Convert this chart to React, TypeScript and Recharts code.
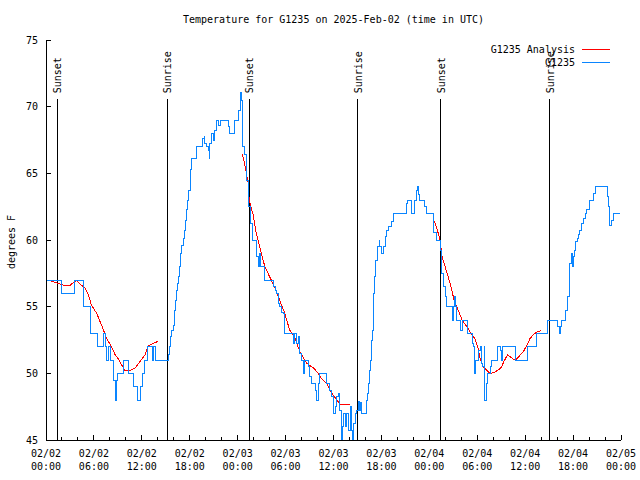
import { LineChart, Line, XAxis, YAxis, ReferenceLine, Legend } from 'recharts';

const FONT = '"DejaVu Sans Mono", monospace';
const BLUE = '#0a85ff';
const RED = '#ff0000';

// hours since 2025-02-02 00:00 UTC, temperature in deg F
const OBS_POINTS = [
  [0, 57], [1.95, 56], [3.6, 57], [4.75, 55], [5.6, 53], [6.5, 52], [7.2, 53], [7.4, 52], [7.6, 51],
  [7.85, 52], [8.05, 51], [8.5, 49.5], [8.7, 48], [8.85, 49.5], [8.95, 50], [9.7, 51], [10.3, 50],
  [10.95, 49], [11.45, 48], [11.8, 49], [12.05, 50], [12.3, 51], [12.75, 52], [13.3, 51], [13.45, 52],
  [13.75, 51], [15.3, 51.4], [15.45, 52], [15.6, 52.75], [15.75, 53.25], [15.95, 53.6], [16.05, 54.25],
  [16.15, 54.75], [16.25, 55.5], [16.35, 56.25], [16.45, 56.75], [16.55, 57.25], [16.7, 58], [16.8, 58.5],
  [16.9, 59], [17.0, 59.6], [17.2, 60.1], [17.3, 60.75], [17.45, 61.5], [17.6, 62.3], [17.75, 63],
  [17.9, 63.75], [18.05, 64.5], [18.15, 65.3], [18.25, 66.1], [18.9, 67], [19.6, 67.6], [19.8, 67.75],
  [19.9, 67.25], [20.1, 67], [20.3, 66.75], [20.45, 66.1], [20.5, 67.25], [20.75, 68], [20.95, 67.5],
  [21.15, 68.25], [21.4, 69], [21.6, 68.6], [21.8, 69], [22.8, 68.5], [22.95, 68], [23.65, 69],
  [24.15, 69.75], [24.3, 70.25], [24.4, 71.1], [24.5, 70.5], [24.6, 70], [24.65, 67], [24.9, 66.4],
  [25.05, 65.5], [25.1, 64.5], [25.3, 62.9], [25.4, 62.5], [25.55, 61.75], [25.65, 61.25], [25.9, 60],
  [26.4, 58.75], [26.6, 58], [26.75, 59], [26.85, 58], [27.4, 57], [28.5, 56.5], [28.7, 56.25],
  [28.9, 56], [29.1, 55.25], [29.3, 55], [29.5, 54.6], [29.7, 54.5], [29.9, 53], [30.95, 52.25],
  [31.1, 53], [31.4, 52.25], [31.6, 52.75], [31.8, 51.5], [32.0, 51], [32.2, 50], [32.4, 51],
  [32.85, 50.5], [33.05, 49.75], [33.25, 49.25], [33.7, 48.75], [33.9, 48], [34.1, 49.25], [34.3, 50],
  [34.95, 50], [35.15, 49.25], [35.55, 48.75], [35.8, 48.25], [36.0, 47.6], [36.06, 47], [36.2, 47.5],
  [36.4, 48.25], [36.6, 48.5], [36.8, 47.25], [37.0, 46.25], [37.05, 45], [37.15, 46], [37.3, 47],
  [37.45, 46], [37.65, 47], [37.85, 45.75], [38.07, 47.5], [38.28, 45.75], [38.4, 45], [38.5, 46.25],
  [38.7, 47], [38.9, 47.25], [39.1, 47.9], [39.25, 47.25], [39.4, 47.8], [39.5, 47], [40.15, 48],
  [40.25, 48.5], [40.35, 49.25], [40.5, 50.25], [40.6, 51], [40.7, 51.75], [40.8, 52.5], [40.9, 53.25],
  [41.0, 54.75], [41.05, 56], [41.1, 57.25], [41.3, 58.5], [41.5, 59.5], [41.7, 60], [41.8, 59.5],
  [42.0, 59], [42.25, 59.5], [42.45, 60.25], [42.65, 60.75], [42.85, 61], [43.3, 61.4], [43.5, 62],
  [45.1, 62.75], [45.25, 63], [45.8, 62], [46.2, 63], [46.4, 63.75], [46.55, 64], [46.7, 63.4],
  [46.8, 63], [47.45, 62.5], [47.6, 62], [48.5, 60.6], [48.85, 60], [49.4, 59.25], [49.5, 57.5],
  [49.75, 56.5], [50.0, 55.75], [50.2, 55], [50.85, 54], [51.0, 55], [51.2, 55.75], [51.3, 55],
  [51.4, 54], [51.85, 53.25], [52.1, 54], [52.75, 53], [53.4, 52.25], [53.5, 52], [53.6, 51.25],
  [53.7, 50], [53.8, 51], [54.1, 51.75], [54.35, 52], [54.55, 50.75], [54.7, 50.5], [54.85, 52],
  [54.95, 48], [55.1, 49.25], [55.25, 50], [55.65, 50.5], [55.8, 51], [56.55, 52], [56.9, 51.75],
  [57.05, 51], [57.2, 52], [58.85, 51], [60.25, 52], [61.45, 53], [62.75, 54], [64.1, 53.5], [64.3, 53],
  [64.45, 53.5], [64.6, 54], [65.1, 54.75], [65.3, 55.75], [65.5, 56.75], [65.6, 58.25], [65.75, 59],
  [65.9, 58], [66.0, 58.75], [66.15, 59.25], [66.3, 59.9], [66.5, 60.1], [66.65, 60.4], [66.85, 60.75],
  [67.1, 61.25], [67.3, 61.6], [67.5, 62], [67.7, 62.3], [68.0, 63], [68.5, 63.5], [68.75, 64],
  [70.3, 63.25], [70.4, 62.5], [70.5, 61.75], [70.6, 61.1], [70.85, 61.5], [71.0, 62], [71.9, 62],
];

const ANALYSIS_NIGHT1 = [
  [0.63, 56.93], [1.75, 56.7], [2.6, 56.55], [3.0, 56.6], [3.4, 56.8], [3.85, 56.95], [4.45, 56.6],
  [4.9, 56.4], [5.3, 55.9], [5.7, 55.1], [6.35, 54.5], [6.75, 53.9], [7.2, 53.25], [7.6, 52.6],
  [8.2, 52], [8.65, 51.4], [9.05, 51.1], [9.5, 50.6], [9.9, 50.2], [10.5, 50.2], [11.15, 50.4],
  [11.8, 50.9], [12.4, 51.4], [12.8, 52.05], [13.45, 52.25], [14.05, 52.4],
];
const ANALYSIS_NIGHT2 = [
  [24.6, 66.45], [24.85, 65.75], [25.1, 65], [25.3, 64.3], [25.4, 63.25], [25.6, 62.6], [25.9, 62],
  [26.25, 60.75], [26.75, 59.5], [27.4, 58], [28.0, 57.25], [28.6, 56.5], [29.25, 55.5], [29.9, 54.5],
  [30.5, 53.25], [31.1, 52.75], [31.8, 51.6], [32.65, 50.75], [33.5, 50.4], [34.1, 50], [34.5, 49.6],
  [35.15, 49.25], [35.8, 48.5], [36.4, 48], [36.8, 47.7], [38.1, 47.7],
];
const ANALYSIS_NIGHT3 = [
  [48.6, 61.45], [49.0, 60.75], [49.35, 60], [49.6, 58.75], [50.1, 57.75], [50.6, 56.75], [51.1, 55.5],
  [51.6, 54.75], [52.1, 54], [52.7, 53.5], [53.2, 53], [53.7, 52.6], [54.1, 51.9], [54.4, 51],
  [54.75, 50.5], [55.4, 50.1], [55.8, 50.0], [56.2, 50.1], [56.75, 50.3], [57.05, 50.5], [57.35, 50.9],
  [57.8, 51.4], [58.2, 51.2], [58.7, 51.0], [59.0, 51.1], [59.4, 51.4], [59.75, 51.6], [60.2, 52.1],
  [60.6, 52.6], [61.0, 52.9], [61.45, 53.1], [62.0, 53.2],
];

const SUN_LABELS = ['Sunset', 'Sunrise', 'Sunset', 'Sunrise', 'Sunset', 'Sunrise'];
const SUN_HOURS = [1.42, 15.17, 25.42, 39.05, 49.42, 63.08];
const SUN_MARK_TOP = 70.55;

const X_TICKS = Array.from({ length: 37 }, (_, i) => i * 2);
const Y_TICKS = [45, 50, 55, 60, 65, 70, 75];
const DAY_LABELS = ['02/02', '02/03', '02/04', '02/05'];

const toRows = (pairs: number[][]) => pairs.map(([h, t]) => ({ h, t }));

const crisp = { shapeRendering: 'crispEdges' as const };

function HourTick(props: any) {
  const { x, y, payload, side } = props;
  const h = payload.value;
  const major = h % 6 === 0;
  const len = major ? 5 : 3;
  const dir = side === 'top' ? 1 : -1;
  const hh = String(h % 24).padStart(2, '0');
  return (
    <g>
      <line x1={x} x2={x} y1={y} y2={y + dir * len} stroke="#000" style={crisp} />
      {side === 'bottom' && major && (
        <text textAnchor="middle" fontFamily={FONT} fontSize={10} fill="#000">
          <tspan x={x} y={y + 17}>{DAY_LABELS[Math.floor(h / 24)]}</tspan>
          <tspan x={x} y={y + 30}>{hh}:00</tspan>
        </text>
      )}
    </g>
  );
}

function TempTick(props: any) {
  const { x, y, payload, side } = props;
  const dir = side === 'left' ? 1 : -1;
  return (
    <g>
      <line x1={x} x2={x + dir * 5} y1={y} y2={y} stroke="#000" style={crisp} />
      {side === 'left' && (
        <text x={x - 8} y={y} dy="0.35em" textAnchor="end" fontFamily={FONT} fontSize={10} fill="#000">
          {payload.value}
        </text>
      )}
    </g>
  );
}

function SunLabel(props: any, text: string) {
  const { viewBox } = props;
  if (!viewBox) return null;
  return (
    <text
      transform={`translate(${viewBox.x + 4},${viewBox.y - 6}) rotate(-90)`}
      textAnchor="start"
      fontFamily={FONT}
      fontSize={10}
      fill="#000"
    >
      {text}
    </text>
  );
}

function AxisTitle(props: any) {
  const { viewBox } = props;
  if (!viewBox) return null;
  return (
    <text
      transform={`translate(${viewBox.x + 15},${viewBox.y + viewBox.height / 2 + 2}) rotate(-90)`}
      textAnchor="middle"
      fontFamily={FONT}
      fontSize={10}
      fill="#000"
    >
      degrees F
    </text>
  );
}

function LegendBox() {
  const rows = [
    { name: 'G1235 Analysis', color: RED },
    { name: 'G1235', color: BLUE },
  ];
  return (
    <div style={{ fontFamily: FONT, fontSize: 10, lineHeight: '13px' }}>
      {rows.map((r) => (
        <div key={r.name} style={{ display: 'flex', height: 13 }}>
          <span style={{ width: 155, textAlign: 'right', whiteSpace: 'pre' }}>{r.name}</span>
          <svg width={35} height={13}>
            <line x1={7} x2={35} y1={6.5} y2={6.5} stroke={r.color} strokeWidth={1} />
          </svg>
        </div>
      ))}
    </div>
  );
}

export default function App() {
  const obs = toRows(OBS_POINTS);
  const nights = [ANALYSIS_NIGHT1, ANALYSIS_NIGHT2, ANALYSIS_NIGHT3].map(toRows);

  return (
    <div style={{ position: 'absolute', left: 0, top: 0, width: 640, height: 480, background: '#fff' }}>
      <div
        style={{
          position: 'absolute', top: 13, left: 46, width: 575, textAlign: 'center',
          fontFamily: FONT, fontSize: 10, lineHeight: '14px', whiteSpace: 'pre',
        }}
      >
        Temperature for G1235 on 2025-Feb-02 (time in UTC)
      </div>
      <LineChart width={640} height={480} margin={{ top: 40, right: 19, bottom: 0, left: 0 }}>
        <XAxis
          dataKey="h" type="number" domain={[0, 72]} ticks={X_TICKS} interval={0}
          allowDataOverflow height={40} tickSize={0} tickMargin={0} tickLine={false}
          axisLine={{ stroke: '#000', ...crisp }}
          tick={(p: any) => <HourTick {...p} side="bottom" />}
        />
        <XAxis
          xAxisId="top" orientation="top" dataKey="h" type="number" domain={[0, 72]} ticks={X_TICKS}
          interval={0} allowDataOverflow height={0} tickSize={0} tickMargin={0} tickLine={false}
          axisLine={{ stroke: '#000', ...crisp }}
          tick={(p: any) => <HourTick {...p} side="top" />}
        />
        <YAxis
          type="number" domain={[45, 75]} ticks={Y_TICKS} interval={0} allowDataOverflow width={46}
          tickSize={0} tickMargin={0} tickLine={false} axisLine={{ stroke: '#000', ...crisp }}
          tick={(p: any) => <TempTick {...p} side="left" />}
          label={(p: any) => <AxisTitle {...p} />}
        />
        <YAxis
          yAxisId="right" orientation="right" type="number" domain={[45, 75]} ticks={Y_TICKS}
          interval={0} allowDataOverflow width={0} tickSize={0} tickMargin={0} tickLine={false}
          axisLine={{ stroke: '#000', ...crisp }}
          tick={(p: any) => <TempTick {...p} side="right" />}
        />
        {SUN_HOURS.map((h, i) => (
          <ReferenceLine
            key={`sun-${i}`}
            segment={[{ x: h, y: 45 }, { x: h, y: SUN_MARK_TOP }]}
            stroke="#000"
            strokeWidth={1}
            style={crisp}
            label={(p: any) => SunLabel(p, SUN_LABELS[i])}
          />
        ))}
        {nights.map((rows, i) => (
          <Line
            key={`analysis-${i}`}
            data={rows}
            dataKey="t"
            type="linear"
            stroke={RED}
            strokeWidth={1}
            dot={false}
            activeDot={false}
            legendType="none"
            isAnimationActive={false}
            style={crisp}
          />
        ))}
        <Line
          data={obs}
          dataKey="t"
          type="stepAfter"
          stroke={BLUE}
          strokeWidth={1}
          dot={false}
          activeDot={false}
          legendType="none"
          isAnimationActive={false}
          style={crisp}
        />
        <Legend
          layout="horizontal"
          verticalAlign="middle"
          align="center"
          wrapperStyle={{ position: 'absolute', top: 42.5, left: 420, width: 200, height: 26 }}
          content={() => <LegendBox />}
        />
      </LineChart>
    </div>
  );
}
